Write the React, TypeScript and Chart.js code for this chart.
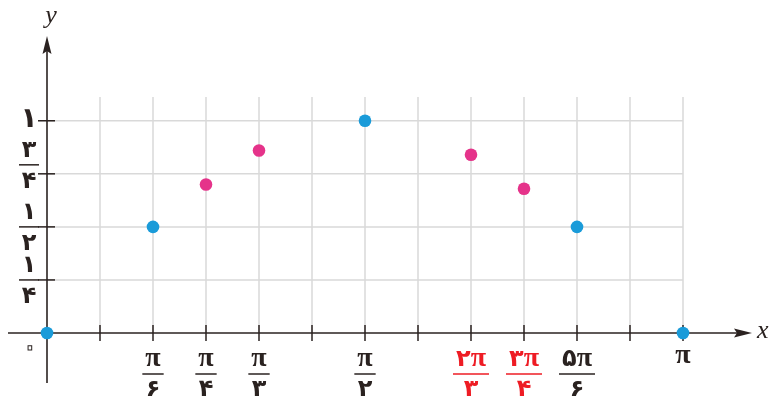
import React, { useEffect, useRef } from 'react';
import { Chart, registerables } from 'chart.js';

Chart.register(...registerables);

// x values in units of π/12
const blueX = [0, 2, 6, 10, 12];
const blueY = [0, 0.5, 1, 0.5, 0];
const pinkX = [3, 4, 8, 9];
const pinkY = [0.7, 0.86, 0.84, 0.68];

const xGridLines = [1, 2, 3, 4, 5, 6, 7, 8, 9, 10, 11, 12];
const yGridLines = [0.25, 0.5, 0.75, 1];

const xLabelPos = [2, 3, 4, 6, 8, 9, 10, 12];
const xLabelNum = ['π', 'π', 'π', 'π', '۲π', '۳π', '۵π', 'π'];
const xLabelDen = ['۶', '۴', '۳', '۲', '۳', '۴', '۶', ''];
const xLabelRed = [false, false, false, false, true, true, false, false];

const yLabelPos = [0.25, 0.5, 0.75, 1];
const yLabelNum = ['۱', '۱', '۳', '۱'];
const yLabelDen = ['۴', '۲', '۴', ''];

const X_MIN = 0;
const X_MAX = 12;
const Y_MIN = 0;
const Y_MAX = 1.112;

const BLUE = '#1a9bd9';
const PINK = '#e5338a';
const RED = '#ee1c24';
const AXIS = '#2a2220';
const GRID = '#d9d9d9';
const SERIF = "'Liberation Serif', 'DejaVu Serif', serif";
const DIGIT_FONT = "bold 24px 'DejaVu Sans', sans-serif";
const PI_FONT = `bold 28px ${SERIF}`;

function drawMixed(ctx: any, text: string, cx: number, cy: number) {
  const parts = Array.from(text).map((ch) => ({ ch, font: ch === 'π' ? PI_FONT : DIGIT_FONT }));
  let total = 0;
  const widths = parts.map((p) => {
    ctx.font = p.font;
    const w = ctx.measureText(p.ch).width;
    total += w;
    return w;
  });
  let x = cx - total / 2;
  ctx.textAlign = 'left';
  parts.forEach((p, i) => {
    ctx.font = p.font;
    ctx.fillText(p.ch, x, cy + (p.ch === 'π' ? -1 : 0));
    x += widths[i];
  });
  ctx.textAlign = 'center';
  return total;
}

const decor = {
  id: 'decor',
  beforeDatasetsDraw(chart: any) {
    const { ctx } = chart;
    const xs = chart.scales.x;
    const ys = chart.scales.y;
    const X = (v: number) => xs.getPixelForValue(v);
    const Y = (v: number) => ys.getPixelForValue(v);
    const line = (x1: number, y1: number, x2: number, y2: number) => {
      ctx.beginPath();
      ctx.moveTo(x1, y1);
      ctx.lineTo(x2, y2);
      ctx.stroke();
    };
    ctx.save();
    ctx.strokeStyle = GRID;
    ctx.lineWidth = 1.5;
    for (const g of xGridLines) line(X(g), Y(0), X(g), Y(Y_MAX));
    for (const g of yGridLines) line(X(0), Y(g), X(X_MAX), Y(g));

    const ox = X(0);
    const oy = Y(0);
    ctx.strokeStyle = AXIS;
    ctx.fillStyle = AXIS;
    ctx.lineWidth = 1.6;
    line(8, oy, 740, oy);
    line(ox, 383, ox, 48);
    ctx.beginPath();
    ctx.moveTo(752, oy);
    ctx.lineTo(734, oy - 4.5);
    ctx.lineTo(737, oy);
    ctx.lineTo(734, oy + 4.5);
    ctx.closePath();
    ctx.fill();
    ctx.beginPath();
    ctx.moveTo(ox, 36);
    ctx.lineTo(ox - 4.5, 54);
    ctx.lineTo(ox, 51);
    ctx.lineTo(ox + 4.5, 54);
    ctx.closePath();
    ctx.fill();

    ctx.lineWidth = 1.5;
    for (const g of xGridLines) line(X(g), oy - 8, X(g), oy + 8);
    for (const g of yGridLines) line(ox - 9, Y(g), ox + 8, Y(g));
    ctx.restore();
  },
  afterDraw(chart: any) {
    const { ctx } = chart;
    const xs = chart.scales.x;
    const ys = chart.scales.y;
    const X = (v: number) => xs.getPixelForValue(v);
    const Y = (v: number) => ys.getPixelForValue(v);
    const ox = X(0);
    const oy = Y(0);
    ctx.save();
    ctx.textAlign = 'center';
    ctx.textBaseline = 'middle';

    xLabelPos.forEach((p, i) => {
      const cx = X(p);
      const col = xLabelRed[i] ? RED : AXIS;
      ctx.fillStyle = col;
      ctx.strokeStyle = col;
      const num = xLabelNum[i];
      const den = xLabelDen[i];
      if (!den) {
        drawMixed(ctx, num, cx, oy + 24);
        return;
      }
      const wn = drawMixed(ctx, num, cx, oy + 27);
      const wd = drawMixed(ctx, den, cx, oy + 57);
      const w = Math.max(19, Math.max(wn, wd) + 6);
      ctx.lineWidth = 1.5;
      ctx.beginPath();
      ctx.moveTo(cx - w / 2, oy + 41);
      ctx.lineTo(cx + w / 2, oy + 41);
      ctx.stroke();
    });

    yLabelPos.forEach((p, i) => {
      const cx = ox - 18;
      const cy = Y(p) + (p === 0.75 ? -9 : 0);
      ctx.fillStyle = AXIS;
      ctx.strokeStyle = AXIS;
      const num = yLabelNum[i];
      const den = yLabelDen[i];
      if (!den) {
        ctx.font = "bold 28px 'DejaVu Sans', sans-serif";
        ctx.fillText(num, cx, cy - 1);
        return;
      }
      ctx.font = DIGIT_FONT;
      ctx.fillText(num, cx, cy - 14);
      ctx.fillText(den, cx, cy + 17);
      ctx.lineWidth = 1.5;
      ctx.beginPath();
      ctx.moveTo(cx - 10, cy);
      ctx.lineTo(cx + 10, cy);
      ctx.stroke();
    });

    // origin label (Persian zero drawn as outline)
    ctx.strokeStyle = AXIS;
    ctx.lineWidth = 1;
    ctx.font = "34px 'DejaVu Sans', sans-serif";
    ctx.strokeText('۰', ox - 17, oy + 15);

    ctx.fillStyle = AXIS;
    ctx.font = `italic 26px ${SERIF}`;
    ctx.fillText('y', ox + 4, 16);
    ctx.textAlign = 'left';
    ctx.fillText('x', 757, oy - 2);
    ctx.restore();
  },
};

export default function App() {
  const ref = useRef<HTMLCanvasElement>(null);
  useEffect(() => {
    if (!ref.current) return;
    const chart = new Chart(ref.current, {
      type: 'scatter',
      data: {
        datasets: [
          {
            data: blueX.map((x, i) => ({ x, y: blueY[i] })),
            backgroundColor: BLUE,
            borderColor: BLUE,
            pointRadius: 6.3,
            pointHoverRadius: 6.3,
            borderWidth: 0,
            clip: false,
          },
          {
            data: pinkX.map((x, i) => ({ x, y: pinkY[i] })),
            backgroundColor: PINK,
            borderColor: PINK,
            pointRadius: 6.3,
            pointHoverRadius: 6.3,
            borderWidth: 0,
            clip: false,
          },
        ],
      },
      options: {
        animation: false,
        responsive: false,
        maintainAspectRatio: false,
        events: [],
        layout: { autoPadding: false, padding: { left: 47, right: 89, top: 97, bottom: 72 } },
        plugins: { legend: { display: false }, tooltip: { enabled: false } },
        scales: {
          x: { type: 'linear', display: false, min: X_MIN, max: X_MAX },
          y: { type: 'linear', display: false, min: Y_MIN, max: Y_MAX },
        },
      },
      plugins: [decor],
    } as any);
    return () => chart.destroy();
  }, []);
  return (
    <div style={{ position: 'absolute', left: 0, top: 0, width: 772, height: 405, background: '#fff' }}>
      <canvas ref={ref} width={772} height={405} style={{ width: 772, height: 405, display: 'block' }} />
    </div>
  );
}
